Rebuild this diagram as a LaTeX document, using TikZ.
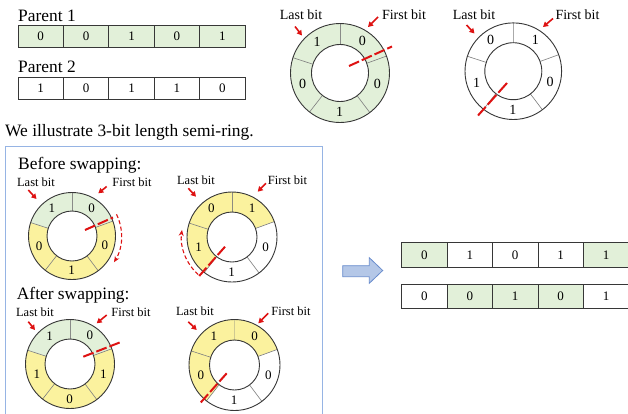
\documentclass[tikz,border=0pt]{standalone}
\usepackage{fontspec}
\setmainfont{Liberation Serif}
\usetikzlibrary{arrows.meta}

\definecolor{cellgreen}{RGB}{226,240,217}
\definecolor{semiyellow}{RGB}{251,242,158}
\definecolor{cutred}{RGB}{222,18,18}
\definecolor{framegray}{RGB}{55,55,55}
\definecolor{spokegray}{RGB}{125,125,125}
\definecolor{panelblue}{RGB}{150,180,228}
\definecolor{arrowfill}{RGB}{180,199,231}
\definecolor{arrowedge}{RGB}{105,140,205}

\tikzset{
  cell/.style={draw=framegray, line width=0.8pt, minimum width=45.4pt,
    minimum height=22.6pt, inner sep=0pt, font=\fontsize{13}{15}\selectfont},
  heading/.style={font=\fontsize{17.4}{20}\selectfont, inner sep=0pt},
  bitlabel/.style={font=\fontsize{14}{16}\selectfont, inner sep=0pt},
  ringdigit/.style={font=\fontsize{14}{16}\selectfont, inner sep=0pt},
  pointer/.style={cutred, line width=1.6pt, -{Triangle[length=5pt,width=5.5pt]}},
  cutline/.style={cutred, line width=2pt, dash pattern=on 11pt off 3pt},
  turnarrow/.style={cutred, line width=1.1pt, dash pattern=on 4pt off 2.5pt,
    -{Stealth[length=6pt,width=5pt]}},
}

% ring of five bits: #1 name, #2 centre, #3 outer radius, #4 inner radius,
% #5 segments as start/end/fill/digit, listed clockwise from the first bit
\newcommand{\bitring}[5]{%
  \begin{scope}[shift={#2}]
    \foreach \a/\b/\c/\d [count=\i] in {#5} {
      \fill[\c] (\a:#3) arc[start angle=\a, end angle=\b, radius=#3]
        -- (\b:#4) arc[start angle=\b, end angle=\a, radius=#4] -- cycle;
      \draw[spokegray, line width=0.6pt] (\a:#4) -- (\a:#3);
      \node[ringdigit] (#1d\i) at ({(\a+\b)/2}:{(#3+#4)/2}) {\d};
    }
    \draw[framegray, line width=0.9pt] (0,0) circle[radius=#3];
    \draw[framegray, line width=0.9pt] (0,0) circle[radius=#4];
  \end{scope}}

% short red arrow from #2 to #3
\newcommand{\bitpointer}[3]{%
  \coordinate (#1-from) at #2;
  \coordinate (#1-to) at #3;
  \draw[pointer] (#1-from) -- (#1-to);}

% a row of five cells: #1 name, #2 left x, #3 centre y, #4 list fill/digit
\newcommand{\bitrow}[4]{%
  \foreach \c/\d [count=\i] in {#4} {
    \node[cell, fill=\c] (#1c\i) at ({#2+45.4*(\i-0.5)}, #3) {\d};
  }}

\begin{document}
\begin{tikzpicture}[x=1pt, y=1pt]
  \useasboundingbox (0,-413) rectangle (628,0);
  \fill[white] (0,-413) rectangle (628,0);

  % parents as bit strings
  \node[heading, anchor=west] (par1) at (18,-15.5) {Parent 1};
  \bitrow{pa}{18}{-36.3}{cellgreen/0, cellgreen/0, cellgreen/1, cellgreen/0, cellgreen/1}
  \node[heading, anchor=west] (par2) at (18,-66.5) {Parent 2};
  \bitrow{pb}{18}{-88.2}{white/1, white/0, white/1, white/1, white/0}

  % parents as rings
  \bitring{ta}{(340,-73)}{49.5pt}{28.5pt}{90/20/cellgreen/0, 20/-53/cellgreen/0,
    -53/-128/cellgreen/1, -128/-198/cellgreen/0, -198/-270/cellgreen/1}
  \draw[cutline] (349,-66) -- (392,-46.5);
  \node[bitlabel] (taLast) at (301,-15) {Last bit};
  \node[bitlabel] (taFirst) at (404,-15) {First bit};
  \bitpointer{taL}{(295,-26.5)}{(302,-35.5)}
  \bitpointer{taF}{(378,-17)}{(368,-27)}

  \bitring{tb}{(513.3,-71.2)}{48.3pt}{28.5pt}{90/20/white/1, 20/-53/white/0,
    -53/-128/white/1, -128/-198/white/1, -198/-270/white/0}
  \draw[cutline, dash pattern=on 13pt off 3pt] (507,-83) -- (478,-115.5);
  \node[bitlabel] (tbLast) at (474,-15) {Last bit};
  \node[bitlabel] (tbFirst) at (577.5,-15) {First bit};
  \bitpointer{tbL}{(466.5,-25)}{(474.5,-33.5)}
  \bitpointer{tbF}{(553,-18.5)}{(543,-27)}

  \node[heading, anchor=west] (note) at (5,-132) {We illustrate 3-bit length semi-ring.};

  % panel with the swap
  \draw[panelblue, line width=0.8pt] (5,-420) -- (5,-146) -- (322.7,-146) -- (322.7,-420);

  \begin{scope}[bitlabel/.style={font=\fontsize{12.5}{15}\selectfont, inner sep=0pt},
                ringdigit/.style={font=\fontsize{13}{15}\selectfont, inner sep=0pt}]
    \node[heading, anchor=west] (before) at (18,-165) {Before swapping:};

    \bitring{ba}{(72,-236)}{43.5pt}{25pt}{90/20/cellgreen/0, 20/-53/semiyellow/0,
      -53/-128/semiyellow/1, -128/-198/semiyellow/0, -198/-270/cellgreen/1}
    \draw[cutline] (85,-230) -- (113,-217.5);
    \draw[turnarrow] (72,-236) ++(26:49.5) arc[start angle=26, end angle=-32, radius=49.5];
    \node[bitlabel] (baLast) at (36,-182) {Last bit};
    \node[bitlabel] (baFirst) at (132,-182) {First bit};
    \bitpointer{baL}{(28.3,-190)}{(36.5,-199)}
    \bitpointer{baF}{(106.7,-186.5)}{(98.3,-193.3)}

    \bitring{bb}{(232,-237)}{45pt}{25pt}{90/20/semiyellow/1, 20/-53/white/0,
      -53/-128/white/1, -128/-198/semiyellow/1, -198/-270/semiyellow/0}
    \draw[cutline] (225,-246.7) -- (198.3,-277);
    \draw[turnarrow] (232,-237) ++(-132:50.5) arc[start angle=-132, end angle=-188, radius=50.5];
    \node[bitlabel] (bbLast) at (196,-180) {Last bit};
    \node[bitlabel] (bbFirst) at (287.5,-180) {First bit};
    \bitpointer{bbL}{(188.3,-188.3)}{(196,-196.7)}
    \bitpointer{bbF}{(266,-183.3)}{(257.7,-191.7)}

    \node[heading, anchor=west] (after) at (16.7,-295) {After swapping:};

    \bitring{aa}{(70,-364)}{44.5pt}{25pt}{90/20/cellgreen/0, 20/-53/semiyellow/1,
      -53/-128/semiyellow/0, -128/-198/semiyellow/1, -198/-270/cellgreen/1}
    \draw[cutline] (83.3,-356.7) -- (121.7,-341.7);
    \node[bitlabel] (aaLast) at (35,-312) {Last bit};
    \node[bitlabel] (aaFirst) at (131,-312) {First bit};
    \bitpointer{aaL}{(28.3,-321.7)}{(35,-330)}
    \bitpointer{aaF}{(106.7,-315)}{(96.7,-323.3)}

    \bitring{ab}{(234.5,-365)}{45.5pt}{25pt}{90/20/semiyellow/0, 20/-53/white/0,
      -53/-128/white/1, -128/-198/semiyellow/0, -198/-270/semiyellow/1}
    \draw[cutline] (226.7,-373.3) -- (200,-403.3);
    \node[bitlabel] (abLast) at (195,-311.7) {Last bit};
    \node[bitlabel] (abFirst) at (291,-311.7) {First bit};
    \bitpointer{abL}{(188.3,-321.7)}{(196.7,-330)}
    \bitpointer{abF}{(268.3,-313.3)}{(258.3,-323.3)}
  \end{scope}

  % block arrow towards the offspring
  \draw[arrowedge, fill=arrowfill, line width=0.8pt]
    (342.7,-265.7) -- (369.3,-265.7) -- (369.3,-257.7) -- (382.7,-270.5)
    -- (369.3,-283.3) -- (369.3,-276.7) -- (342.7,-276.7) -- cycle;

  % offspring
  \begin{scope}[cell/.append style={minimum height=24.4pt}]
    \bitrow{oa}{401.7}{-255}{cellgreen/0, white/1, white/0, white/1, cellgreen/1}
    \bitrow{ob}{401.7}{-296.3}{white/0, cellgreen/0, cellgreen/1, cellgreen/0, white/1}
  \end{scope}
\end{tikzpicture}
\end{document}
